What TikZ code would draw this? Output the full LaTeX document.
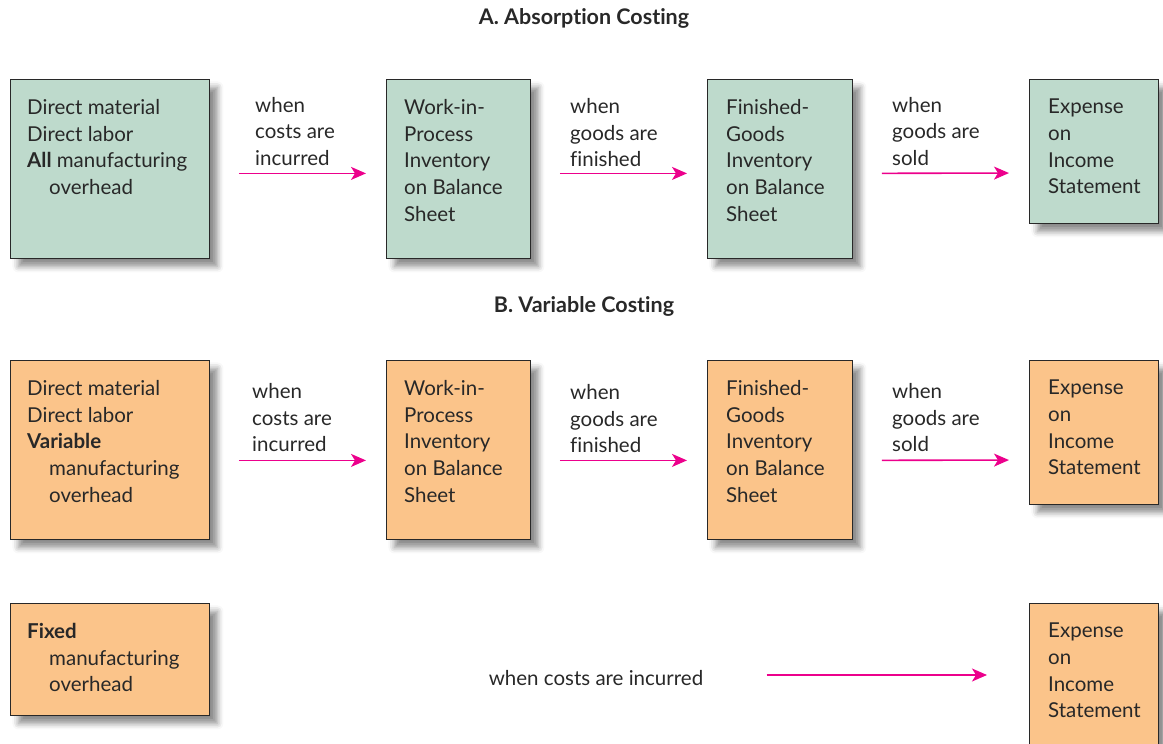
\documentclass[tikz,border=0pt]{standalone}
\usepackage{fontspec}
\setmainfont{Lato}[Ligatures=NoCommon]
\usetikzlibrary{arrows.meta,shadows.blur}

\definecolor{absgreen}{RGB}{190,218,204}
\definecolor{varorange}{RGB}{251,196,138}
\definecolor{flowpink}{RGB}{236,0,140}
\definecolor{ink}{RGB}{40,40,40}

\begin{document}
\begin{tikzpicture}[
    x=1pt, y=1pt,
    every node/.style={font=\fontsize{20.5}{26.7}\selectfont, text=ink},
    box/.style={draw=ink, line width=0.8pt, anchor=north west, inner sep=0pt,
        blur shadow={shadow xshift=8pt, shadow yshift=-8pt,
            shadow blur radius=6pt, shadow opacity=45}},
    green/.style={box, fill=absgreen},
    orange/.style={box, fill=varorange},
    boxtext/.style={anchor=north west, inner sep=0pt, align=left},
    heading/.style={font=\fontsize{21.5}{24}\selectfont\bfseries},
    flow/.style={draw=flowpink, line width=1.6pt,
        -{Stealth[length=15pt, width=13pt, inset=4pt]},
        shorten <=29pt, shorten >=20pt}]

\useasboundingbox (0,0) rectangle (1163,-744);

% A. absorption costing
\node[heading] (ta) at (584,-18) {A. Absorption Costing};

\node[green, minimum width=199, minimum height=179] (adm) at (10,-79) {};
\node[green, minimum width=144, minimum height=179] (awip) at (386,-79) {};
\node[green, minimum width=145, minimum height=179] (afg) at (707,-79) {};
\node[green, minimum width=129, minimum height=144] (aexp) at (1029,-79) {};

\node[boxtext] (admtxt) at (27,-99) {Direct material\\Direct labor\\
    \textbf{All} manufacturing\\\hspace*{22pt}overhead};
\node[boxtext] (awiptxt) at (404,-99) {Work-in-\\Process\\Inventory\\on Balance\\Sheet};
\node[boxtext] (afgtxt) at (726,-99) {Finished-\\Goods\\Inventory\\on Balance\\Sheet};
\node[boxtext] (aexptxt) at (1048,-99) {Expense\\on\\Income\\Statement};

\node[boxtext] (a1) at (255,-97) {when\\costs are\\incurred};
\node[boxtext] (a2) at (570,-98) {when\\goods are\\finished};
\node[boxtext] (a3) at (892,-97) {when\\goods are\\sold};

\draw[flow] ([yshift=-4.5]adm.east) -- ([yshift=-4.5]awip.west);
\draw[flow] ([yshift=-4.5]awip.east) -- ([yshift=-4.5]afg.west);
\draw[flow] ([yshift=-4.5]afg.east) -- (aexp.west |- 0,-173);

% B. variable costing
\node[heading] (tb) at (584,-306) {B. Variable Costing};

\node[orange, minimum width=199, minimum height=179] (vdm) at (10,-360) {};
\node[orange, minimum width=144, minimum height=179] (vwip) at (386,-360) {};
\node[orange, minimum width=145, minimum height=179] (vfg) at (707,-360) {};
\node[orange, minimum width=129, minimum height=144] (vexp) at (1029,-360) {};

\node[boxtext] (vdmtxt) at (27,-380) {Direct material\\Direct labor\\
    \textbf{Variable}\\\hspace*{22pt}manufacturing\\\hspace*{22pt}overhead};
\node[boxtext] (vwiptxt) at (404,-380) {Work-in-\\Process\\Inventory\\on Balance\\Sheet};
\node[boxtext] (vfgtxt) at (726,-380) {Finished-\\Goods\\Inventory\\on Balance\\Sheet};
\node[boxtext] (vexptxt) at (1048,-380) {Expense\\on\\Income\\Statement};

\node[boxtext] (v1) at (252,-383) {when\\costs are\\incurred};
\node[boxtext] (v2) at (570,-384) {when\\goods are\\finished};
\node[boxtext] (v3) at (892,-383) {when\\goods are\\sold};

\draw[flow] ([yshift=-10.5]vdm.east) -- ([yshift=-10.5]vwip.west);
\draw[flow] ([yshift=-10.5]vwip.east) -- ([yshift=-10.5]vfg.west);
\draw[flow] ([yshift=-10.5]vfg.east) -- (vexp.west |- 0,-460);

% fixed overhead goes straight to expense
\node[orange, minimum width=199, minimum height=112] (fx) at (10,-603) {};
\node[orange, minimum width=129, minimum height=144] (fxexp) at (1029,-603) {};

\node[boxtext] (fxtxt) at (27,-623) {\textbf{Fixed}\\\hspace*{22pt}manufacturing\\\hspace*{22pt}overhead};
\node[boxtext] (fxexptxt) at (1048,-623) {Expense\\on\\Income\\Statement};

\node (f1) at (596,-678) {when costs are incurred};
\draw[flow, shorten <=60pt, shorten >=42pt] (f1.east |- 0,-675) -- (fxexp.west |- 0,-675);

\end{tikzpicture}
\end{document}
